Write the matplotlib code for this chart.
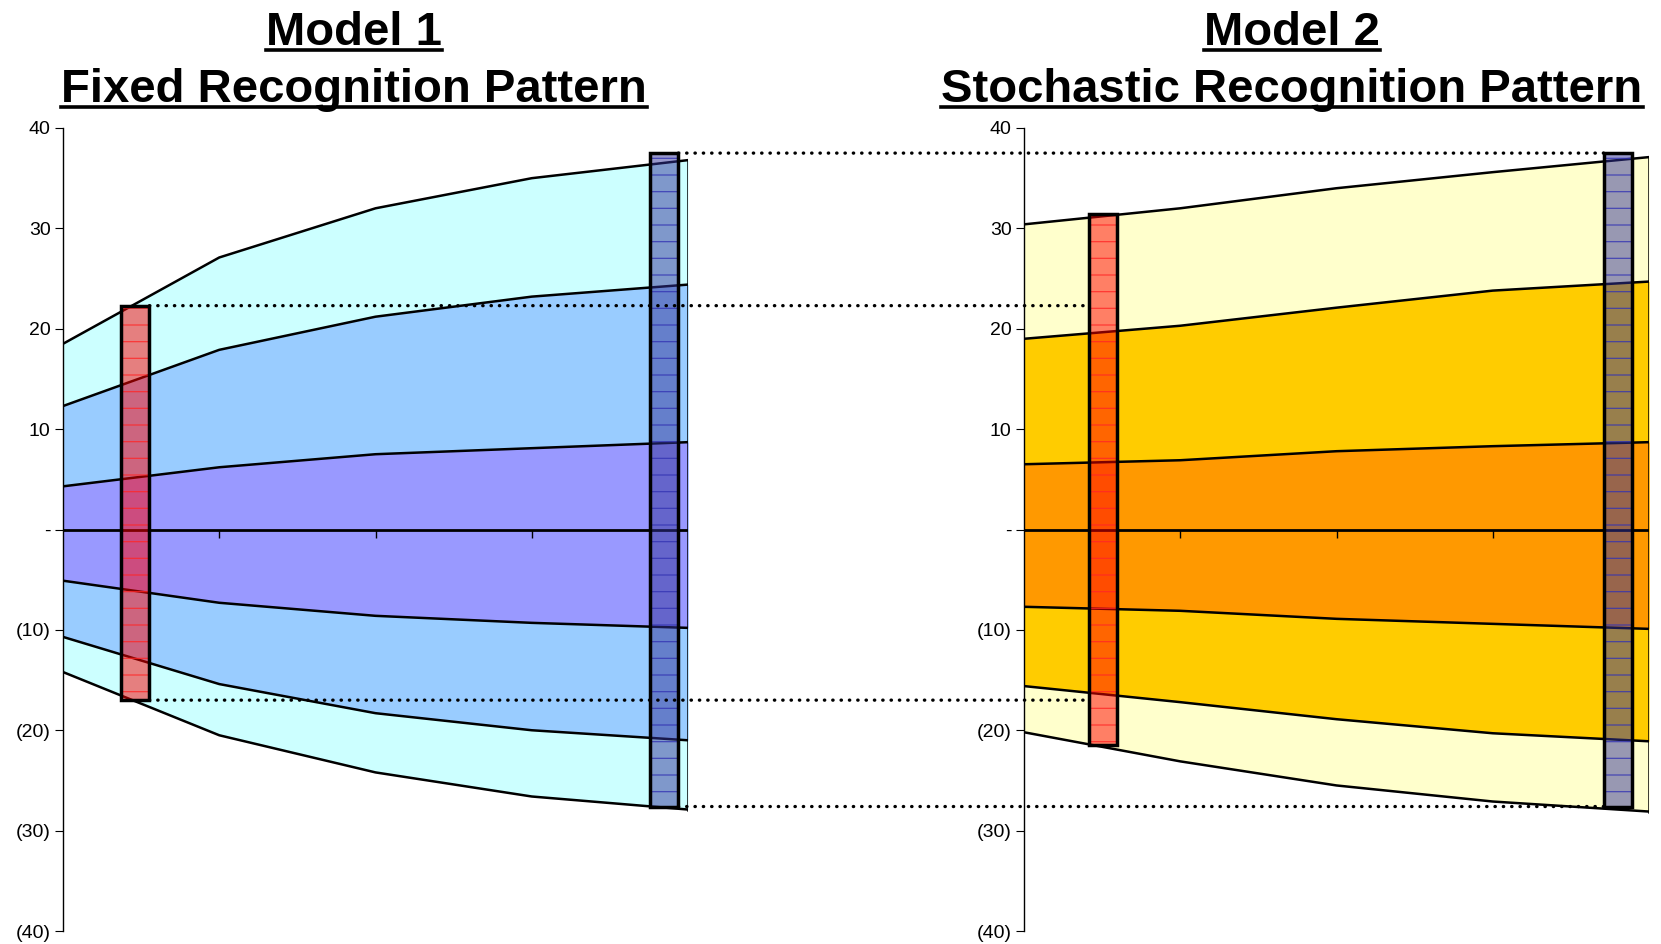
import numpy as np
import matplotlib
matplotlib.use('Agg')
import matplotlib.pyplot as plt
from matplotlib.patches import ConnectionPatch
from matplotlib.lines import Line2D

plt.rcParams['font.family'] = ['Liberation Sans', 'DejaVu Sans']

# projection steps (x positions of the bands)
steps = [0, 1, 2, 3, 4]

# Model 1 - fixed recognition pattern bands (outer / middle / inner, upper and lower)
m1_outer_up = [18.5, 27.1, 32.0, 35.0, 36.8]
m1_mid_up = [12.3, 17.9, 21.2, 23.2, 24.4]
m1_inner_up = [4.3, 6.2, 7.5, 8.1, 8.7]
m1_inner_lo = [-5.1, -7.3, -8.6, -9.3, -9.8]
m1_mid_lo = [-10.7, -15.4, -18.3, -20.0, -21.0]
m1_outer_lo = [-14.2, -20.5, -24.2, -26.6, -27.9]

# Model 2 - stochastic recognition pattern bands
m2_outer_up = [30.4, 32.0, 34.0, 35.6, 37.1]
m2_mid_up = [19.0, 20.3, 22.1, 23.8, 24.7]
m2_inner_up = [6.5, 6.9, 7.8, 8.3, 8.7]
m2_inner_lo = [-7.7, -8.1, -8.9, -9.4, -9.9]
m2_mid_lo = [-15.6, -17.2, -18.9, -20.3, -21.1]
m2_outer_lo = [-20.2, -23.1, -25.5, -27.1, -28.1]

# range bars (position, low, high)
m1_red = (0.463, -17.0, 22.3)
m1_blue = (3.848, -27.6, 37.5)
m2_red = (0.505, -21.5, 31.4)
m2_blue = (3.80, -27.6, 37.5)

yticks = [40, 30, 20, 10, 0, -10, -20, -30, -40]
ylabels = ['40', '30', '20', '10', '-', '(10)', '(20)', '(30)', '(40)']

bar_w = 0.18

fig = plt.figure(figsize=(16.61, 9.44), dpi=100)
ax1 = fig.add_axes([63/1661, 13/944, 625/1661, 803/944])
ax2 = fig.add_axes([1024/1661, 13/944, 625/1661, 803/944])

plt.rcParams['hatch.linewidth'] = 0.9


def range_bar(ax, bar, face, hatch_col):
    # fill + hatch first, then a black outline on top
    ax.bar(bar[0], bar[2] - bar[1], bottom=bar[1], width=bar_w, color=face,
           edgecolor=hatch_col, lw=0, hatch='-', zorder=3)
    ax.bar(bar[0], bar[2] - bar[1], bottom=bar[1], width=bar_w, fill=False,
           edgecolor='black', lw=2.5, zorder=4)


def draw_model(ax, bands, colors, red, blue):
    outer_up, mid_up, inner_up, inner_lo, mid_lo, outer_lo = bands
    ax.fill_between(steps, outer_lo, outer_up, color=colors[0], lw=0, zorder=1)
    ax.fill_between(steps, mid_lo, mid_up, color=colors[1], lw=0, zorder=1)
    ax.fill_between(steps, inner_lo, inner_up, color=colors[2], lw=0, zorder=1)
    for b in bands:
        ax.plot(steps, b, color='black', lw=1.8, zorder=2)
    ax.plot([steps[-1], steps[-1]], [outer_lo[-1], outer_up[-1]], color='black', lw=1.8, zorder=2)
    ax.plot([steps[0], steps[-1]], [0, 0], color='black', lw=2, zorder=2)

    range_bar(ax, red, (1, 0, 0, 0.5), (1, 0.15, 0.15, 0.8))
    range_bar(ax, blue, (0.2, 0.2, 0.6, 0.5), (0.2, 0.2, 0.7, 0.8))

    ax.set_xlim(0, 4)
    ax.set_ylim(-40, 40)
    ax.set_yticks(yticks)
    ax.set_yticklabels(ylabels, fontsize=14)
    ax.set_xticks([1, 2, 3])
    ax.set_xticklabels([])
    for s in ['top', 'right']:
        ax.spines[s].set_visible(False)
    ax.spines['bottom'].set_visible(False)
    ax.spines['bottom'].set_position(('data', 0))
    ax.spines['left'].set_linewidth(1)
    ax.tick_params(axis='y', direction='out', length=6, pad=3)
    ax.tick_params(axis='x', direction='out', length=6, width=1)
    ax.patch.set_alpha(0)


draw_model(ax1, [m1_outer_up, m1_mid_up, m1_inner_up, m1_inner_lo, m1_mid_lo, m1_outer_lo],
           ['#CCFFFF', '#99CCFF', '#9999FF'], m1_red, m1_blue)
draw_model(ax2, [m2_outer_up, m2_mid_up, m2_inner_up, m2_inner_lo, m2_mid_lo, m2_outer_lo],
           ['#FFFFCC', '#FFCC00', '#FF9900'], m2_red, m2_blue)

# dotted connectors between the two models
connectors = [
    ((m1_red[0] + bar_w / 2, m1_red[2]), (m2_red[0] - bar_w / 2, m1_red[2])),
    ((m1_red[0] + bar_w / 2, m1_red[1]), (m2_red[0] - bar_w / 2, m1_red[1])),
    ((m1_blue[0] + bar_w / 2, m1_blue[2]), (m2_blue[0] - bar_w / 2, m2_blue[2])),
    ((m1_blue[0] + bar_w / 2, m1_blue[1]), (m2_blue[0] - bar_w / 2, m2_blue[1])),
]
for a, b in connectors:
    con = ConnectionPatch(xyA=a, coordsA=ax1.transData, xyB=b, coordsB=ax2.transData,
                          color='black', lw=2.4, linestyle=(0, (0.1, 2.4)),
                          capstyle='round', zorder=5)
    fig.add_artist(con)

# titles with underline (baseline positions in pixels from top)
titles = [
    ('Model 1', 354, 45), ('Fixed Recognition Pattern', 354, 102),
    ('Model 2', 1292, 45), ('Stochastic Recognition Pattern', 1292, 102),
]
txts = []
for s, x, y in titles:
    t = fig.text(x / 1661, 1 - y / 944, s, fontsize=34, fontweight='bold',
                 ha='center', va='baseline')
    txts.append(t)

fig.canvas.draw()
r = fig.canvas.get_renderer()
inv = fig.transFigure.inverted()
for t, (s, x, y) in zip(txts, titles):
    bb = t.get_window_extent(r)
    x0 = inv.transform((bb.x0, 0))[0]
    x1 = inv.transform((bb.x1, 0))[0]
    yl = 1 - (y + 4.5) / 944
    fig.add_artist(Line2D([x0, x1], [yl, yl], transform=fig.transFigure, color='black', lw=2.6))

fig.savefig('out.png', dpi=100)
